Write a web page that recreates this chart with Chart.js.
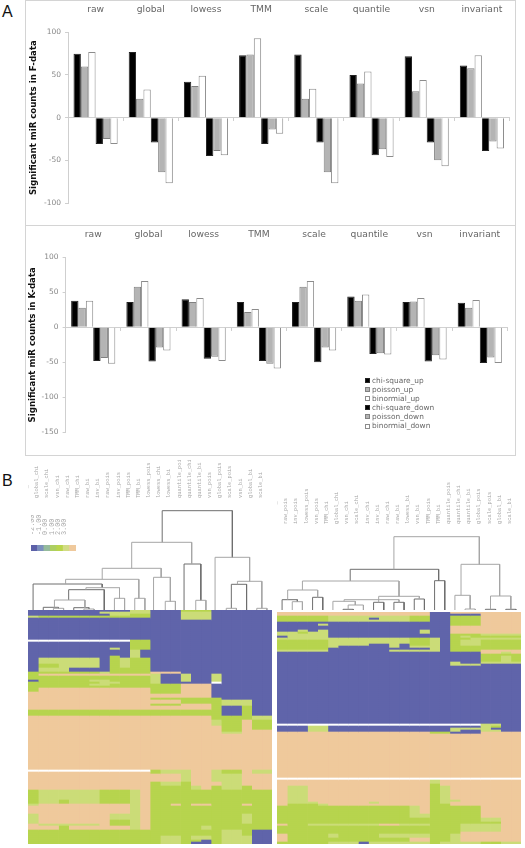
<!DOCTYPE html>
<html lang="en">
<head>
<meta charset="UTF-8">
<title>Significant miR counts</title>
<style>
    body { margin: 0; background: #fff; width: 525px; height: 848px; position: relative; overflow: hidden; }
    canvas { position: absolute; }
    .panel { position: absolute; left: 25px; width: 491px; border: 1px solid #d4d4d4; box-sizing: border-box; }
    .letter { position: absolute; left: 2px; font: 16px "Liberation Sans", Arial, sans-serif; color: #111; }
    .legend { position: absolute; left: 365px; top: 376px; font: 7.4px/9.1px "DejaVu Sans", sans-serif; color: #666; }
    .legend div { display: flex; align-items: center; height: 9.1px; }
    .legend span { width: 3px; height: 3px; margin-right: 2px; border: 1px solid #888; }
</style>
<script src="https://cdn.jsdelivr.net/npm/chart.js"></script>
</head>
<body>
<div class="panel" style="top:0;height:226px"></div>
<div class="panel" style="top:225px;height:231px"></div>
<div class="letter" style="top:3px">A</div>
<div class="letter" style="top:472px">B</div>
<canvas id="barF" width="488" height="224" style="left:26px;top:1px"></canvas>
<canvas id="barK" width="488" height="228" style="left:26px;top:226px"></canvas>
<div class="legend" id="legend"></div>
<canvas id="colorbar" width="45" height="36" style="left:31px;top:515px"></canvas>
<canvas id="dendroLeft" width="244" height="150" style="left:28px;top:460px"></canvas>
<canvas id="dendroRight" width="244" height="150" style="left:277px;top:460px"></canvas>
<canvas id="heatLeft" width="244" height="234" style="left:28px;top:610px"></canvas>
<canvas id="heatRight" width="244" height="232" style="left:277px;top:612px"></canvas>
<script>
const categories = ['raw', 'global', 'lowess', 'TMM', 'scale', 'quantile', 'vsn', 'invariant'];
const seriesNames = ['chi-square_up', 'poisson_up', 'binormial_up', 'chi-square_down', 'poisson_down', 'binormial_down'];

// F-data
const chiUpF = [75, 77, 42, 73, 74, 50, 72, 61];
const poissonUpF = [60, 22, 37, 74, 22, 40, 31, 58];
const binormUpF = [77, 33, 49, 93, 34, 54, 44, 73];
const chiDownF = [-31, -29, -45, -31, -29, -44, -29, -39];
const poissonDownF = [-25, -64, -39, -14, -64, -37, -50, -28];
const binormDownF = [-31, -77, -44, -19, -77, -46, -57, -36];

// K-data
const chiUpK = [38, 36, 40, 36, 36, 44, 36, 35];
const poissonUpK = [28, 58, 36, 22, 58, 38, 37, 28];
const binormUpK = [38, 66, 42, 26, 66, 47, 42, 39];
const chiDownK = [-48, -49, -45, -48, -50, -38, -49, -51];
const poissonDownK = [-44, -29, -42, -52, -29, -37, -40, -43];
const binormDownK = [-52, -33, -48, -59, -33, -39, -46, -51];

const colorbarTicks = ['-3.00', '-2.00', '-1.00', '0.00', '1.00', '2.00', '3.00'];
const colorbarColors = ['#5c60a8', '#7c90bd', '#95bb9c', '#adcf62', '#b9d54c', '#d2dc84', '#efc99c'];

const leftLeaves = ['inv_chi', 'global_chi', 'scale_chi', 'vsn_chi', 'raw_chi', 'TMM_chi', 'raw_bi', 'inv_bi', 'raw_pois', 'inv_pois', 'TMM_pois', 'TMM_bi', 'lowess_pois', 'lowess_chi', 'lowess_bi', 'quantile_pois', 'quantile_chi', 'quantile_bi', 'vsn_pois', 'global_pois', 'scale_pois', 'vsn_bi', 'global_bi', 'scale_bi'];
const rightLeaves = ['lowess_chi', 'raw_pois', 'inv_pois', 'lowess_pois', 'vsn_pois', 'TMM_chi', 'global_chi', 'vsn_chi', 'scale_chi', 'inv_chi', 'inv_bi', 'raw_chi', 'raw_bi', 'lowess_bi', 'vsn_bi', 'TMM_pois', 'TMM_bi', 'quantile_pois', 'quantile_chi', 'quantile_bi', 'global_pois', 'scale_pois', 'global_bi', 'scale_bi'];

// dendrogram links: [x1, h1, x2, h2, top], x in leaf positions
const leftLinksDark = [
    [12.7, 67.7, 19.6, 52.7, 99.3], [0, 0, 6.8, 22.3, 26], [3.5, 10, 7, 0, 20.3],
    [14.85, 0, 16.5, 9.7, 46], [19.5, 1.7, 21, 0, 25.7], [1, 0, 2.5, 1.7, 2.7], [4, 0, 5.5, 1, 2.3]
];
const leftLinksLight = [
    [9.7, 41.7, 15.6, 46, 67.7], [17.9, 0, 21.3, 28.7, 52.7], [20.1, 25.7, 22.5, 1.7, 28.7],
    [19, 0, 20, 0, 1.7], [22, 0, 23, 0, 1.7], [6.8, 30.7, 12.6, 32.7, 41.7], [3.2, 26, 10.4, 11.7, 30.7],
    [5.2, 20.3, 8.5, 11.7, 22.3], [2.1, 2.7, 5.1, 2.3, 10], [2, 0, 3, 0, 1.7], [5, 0, 6, 0, 1],
    [8, 0, 9, 0, 11.7], [10, 0, 11, 0, 11.7], [11.85, 0, 13.5, 8.7, 32.7], [13, 0, 14, 0, 8.7], [16, 0, 17, 0, 9.7]
];
const rightLinksDark = [
    [6.7, 29, 15.4, 29.3, 40.7], [15, 0, 16, 0, 29.3], [3, 0, 4, 0, 12.7], [0, 0, 1.5, 8.3, 10.3],
    [20, 0, 21, 0, 0.7], [22, 0, 23, 0, 0.7], [6, 0, 7, 0, 0.7], [9, 0, 10, 0, 7.7], [11, 0, 12, 0, 7.7], [13, 0, 14, 0, 11]
];
const rightLinksLight = [
    [11, 40.7, 19.4, 45.7, 73.3], [2, 20, 11.5, 13.7, 29], [0.55, 10.3, 3.5, 12.7, 20], [1, 0, 2, 0, 8.3],
    [9.5, 7.7, 13.5, 11, 13.7], [6.1, 8.7, 11.5, 7.7, 10.3], [5, 0, 7.2, 5, 8.7], [6.5, 0.7, 8, 0, 5],
    [17.6, 14.7, 21.4, 14, 45.7], [17, 0, 18.5, 1, 14.7], [18, 0, 19, 0, 1], [20.5, 0.7, 22.5, 0.7, 14]
];

// heatmap rows, one letter per column, repeated as given in the *Repeats list
const heatLeftRows = [
    'bbbbbbbbbbllbbbgggbbbbbb', 'bbbbbbblllllbbblllbbbbbb', 'bbbbbbbbllggbbblllbbbbbb', 'lgggggggggggbbblllbbbbbb',
    'bbbbbbbbbbbbbbblllbbbbbb', 'bbbbbbbbbbbbbbbbbbbbbbbb', 'wwwwwwwwwwggbbbbbbbbbbbb', 'bbbbbbbbbbggbbbbbbbbbbbb',
    'bbbbbbbblbggbbbbbbbbbbbb', 'bbbbbbbbbblbbbbbbbbbbbbb', 'bbbbbbbbgblbbbbbbbbbbbbb', 'bllllllbglggbbbbbbbbbbbb',
    'bggllllbglggbbbbbbbbbbbb', 'blllbbbbggggbbbbbbbbbbbb', 'ggggggglggggooobbbbbbbbb', 'gooooooooooolbblbblbbbbb',
    'gggggggggggglbblbblbbbbb', 'bgggggllgggglbblbblbbbbb', 'gggggggllggglbbbbbwbbbbb', 'ggggggllgggggggooobbbbbb',
    'gggggggggggggggooobbbbbb', 'gooooooooooogggooobbbbbb', 'oooooooooooogggooobbbbbb', 'oooooooooooooooooobbbbbb',
    'oooooooooooogggggggbbbbb', 'ooooooooooooooogggglllbb', 'oooooooooooogggoooglllbb', 'oooooooooooooooooogbbgbb',
    'gggggggggggggggggggbbgbb', 'ooooooooooooooooooggggll', 'oooooooooooooooooolggogg', 'oooooooooooooooooooggogg',
    'oooooooooooooooooooggooo', 'ooooooooooooooooooolloo' + 'o', 'oooooooooooooooooooooooo', 'wwwwwwwwwwwwgllloolggoll',
    'oooooooooooogllloolggoll', 'oooooooooooooooloolllooo', 'oooooooooooogllgooollooo', 'oooooooooooogggglogllgoo',
    'gllllllggglogggggggggggg', 'gllglllggglogggggggggggg', 'looooooooologgogoogggogg', 'oooooooooolo' + 'gggggggggggg',
    'looooooolllo' + 'ggggggggglgg', 'loooooooggl' + 'oggggggggglgg', 'ollllllogglo' + 'gggggggggggg', 'ooogoooooolo' + 'ggggglgggggg',
    'gggggggggggggggggggllgbb', 'gggggggggggggllgllglllbb', 'gggggggggggggllggbglllbb', 'gggggggggggggllgbbglllbb'
];
const heatLeftRepeats = [1, 1, 1, 1, 1, 10, 1, 3, 1, 3, 1, 3, 2, 2, 1, 1, 2, 1, 1, 1, 1, 2, 1, 2, 1, 2, 1, 2, 3, 2, 3, 2, 1, 1, 18, 1, 1, 4, 2, 2, 5, 2, 1, 4, 3, 2, 1, 2, 3, 2, 1, 1];

const heatRightRows = [
    'ooooooooooooooobbooooooo', 'ooooooooooooooobbbbboooo', 'gggggllllllllggbbgggoooo', 'gggggllllblllggbbgggoooo',
    'gggggllllllllggbbgggoooo', 'bbbbbbbbbbbbbbbbbgggoooo', 'bbbblbbbbbbbbbbbbgggoooo', 'bbbbbbbbbbbbbbbbbooooooo',
    'bblblbbbbbbbbblbbooooooo', 'llgllbbbbbbbbblbbooooooo', 'lllllbbbbbbbbbbbbgggllll', 'bllllbbbbbbbbbbbbglggggg',
    'lllllllllllllgglbggllll' + 'l', 'gggggllllllllgglbgllgggg', 'gggggllllbblbgglbgllgggg', 'ggggglbbbbblblllbggggggg',
    'gggggbbbbbbbbbblbggggggg', 'lllllbbbbbblllllbgggoooo', 'bbbbbbbbbbbbbbbbbbbboolo', 'bbbbbbbbbbbbbbbbbbbbgggg',
    'bbbbbbbbbbbbbbbbbbbbgglg', 'bbbbbbbbbbbbbbbbblbbllll', 'bbbbbbbbbbbbbbbbblllbbbb', 'bbbbbbbbbbbbbbbbbbbbbbbb',
    'wwwwwwwwwwwwwwwwwwwwllbb', 'bbbllbbbbbbbbbbbbbbblgbb', 'bbbllbbbbbbbbbbbbllllbb' + 'b', 'bbbllbbbbbbbbbbbblbbllbb',
    'ooooooooooooooogg' + 'bbboooo', 'oooooooooooooooooooooooo', 'wwwwwwwwwwwwwwwwwwwwwwww', 'ooooooooooooooo' + 'loooooooo',
    'ooooooooooooooo' + 'goooooooo', 'ollooooooooooooglooooooo', 'olloooooooooooogllo' + 'ooooo', 'olllooooolooooogloooooo' + 'o',
    'ogggloooooooooo' + 'ggooooooo', 'ggggggggggggg' + 'logggggoooo', 'ggggggggggggg' + 'llgggggoooo', 'gggggggggggggggggggglloo' ,
    'ggggggggggggggggggggggoo', 'oggllllllloolllggglllloo', 'gggggggggggggggggglllloo', 'ggggggggggggggggggoooooo',
    'ogggglgggglllllgglooo' + 'ooo', 'oggggggggggggoogglooo' + 'ooo', 'ggggglllbllllllgllllggll'
];
const heatRightRepeats = [1, 1, 1, 1, 1, 1, 1, 2, 1, 1, 1, 1, 1, 2, 1, 1, 1, 1, 1, 1, 3, 1, 1, 29, 1, 1, 1, 1, 1, 22, 1, 2, 1, 7, 1, 1, 1, 4, 2, 2, 1, 1, 3, 1, 2, 2, 1];

const heatColors = { b: '#6064aa', g: '#b7d44e', l: '#cbdc78', o: '#efc99c', w: '#ffffff' };

Chart.defaults.animation = false;
Chart.defaults.responsive = false;
Chart.defaults.font.family = '"DejaVu Sans", sans-serif';
Chart.defaults.plugins.legend.display = false;
Chart.defaults.plugins.tooltip.enabled = false;

const seriesFill = ['#000000', '#b4b4b4', '#ffffff', '#000000', '#b4b4b4', '#ffffff'];
const seriesEdge = ['#222222', '#808080', '#8c8c8c', '#222222', '#808080', '#8c8c8c'];

function drawBars(id, series, yMin, yMax, title, box) {
    new Chart(document.getElementById(id), {
        type: 'bar',
        data: {
            labels: categories,
            datasets: series.map((values, i) => ({
                label: seriesNames[i],
                data: values,
                backgroundColor: seriesFill[i],
                borderColor: seriesEdge[i],
                borderWidth: 1,
                barPercentage: 1,
                categoryPercentage: 0.8
            }))
        },
        options: {
            layout: { padding: { right: box.right, bottom: box.bottom } },
            scales: {
                x: {
                    position: { y: 0 },
                    offset: true,
                    grid: { drawOnChartArea: false, tickLength: 3, color: '#cfcfcf' },
                    border: { color: '#cfcfcf' },
                    ticks: { display: false }
                },
                top: {
                    type: 'category',
                    labels: categories,
                    position: 'top',
                    offset: true,
                    grid: { display: false },
                    border: { display: false },
                    ticks: { color: '#666', font: { size: 9.2 }, padding: 9, maxRotation: 0 },
                    afterFit(scale) { scale.height = box.top; }
                },
                y: {
                    min: yMin,
                    max: yMax,
                    ticks: { stepSize: 50, color: '#888', font: { size: 7.5 }, padding: 4 },
                    grid: { drawOnChartArea: false, tickLength: 3, color: '#cfcfcf' },
                    border: { color: '#cfcfcf' },
                    title: { display: true, text: title, color: '#111', font: { size: 8.6, weight: 'bold' }, padding: { top: box.titleGap, bottom: 0 } },
                    afterFit(scale) { scale.width = box.left; }
                }
            }
        }
    });
}

drawBars('barF', [chiUpF, poissonUpF, binormUpF, chiDownF, poissonDownF, binormDownF], -100, 100,
    'Significant miR counts in F-data', { left: 42, right: 4.5, top: 31.3, bottom: 22, titleGap: 3 });
drawBars('barK', [chiUpK, poissonUpK, binormUpK, chiDownK, poissonDownK, binormDownK], -150, 100,
    'Significant miR counts in K-data', { left: 39.6, right: 6.6, top: 31.3, bottom: 21.7, titleGap: 2 });

document.getElementById('legend').innerHTML = seriesNames.map((name, i) =>
    `<div><span style="background:${seriesFill[i]};border-color:${seriesEdge[i]}"></span>${name}</div>`).join('');

new Chart(document.getElementById('colorbar'), {
    type: 'bar',
    data: {
        labels: colorbarTicks,
        datasets: [{ data: colorbarTicks.map(() => 1), backgroundColor: colorbarColors, barPercentage: 1, categoryPercentage: 1 }]
    },
    options: {
        scales: {
            x: {
                position: 'top',
                grid: { display: false },
                border: { display: false },
                ticks: { color: '#aaa', font: { family: '"Liberation Mono", monospace', size: 6.8 }, padding: 2, minRotation: 90, maxRotation: 90, autoSkip: false },
                afterFit(scale) { scale.height = 30; scale.paddingLeft = 0; scale.paddingRight = 0; }
            },
            y: { display: false, min: 0, max: 1 }
        }
    }
});

function linkPoints(links) {
    const points = [];
    links.forEach(([x1, h1, x2, h2, top]) => {
        points.push({ x: x1, y: h1 }, { x: x1, y: top }, { x: x2, y: top }, { x: x2, y: h2 }, { x: null, y: null });
    });
    return points;
}

function drawDendro(id, leaves, dark, light, yMax, labelHeight) {
    const lineStyle = { showLine: true, pointRadius: 0, borderWidth: 1, spanGaps: false };
    new Chart(document.getElementById(id), {
        type: 'scatter',
        data: {
            datasets: [
                { ...lineStyle, data: linkPoints(light), borderColor: '#a6a6a6' },
                { ...lineStyle, data: linkPoints(dark), borderColor: '#6e6e6e' }
            ]
        },
        options: {
            scales: {
                x: { type: 'linear', display: false, min: -0.5, max: leaves.length - 0.5 },
                y: { display: false, min: 0, max: yMax },
                names: {
                    type: 'category',
                    labels: leaves,
                    position: 'top',
                    offset: true,
                    grid: { display: false },
                    border: { display: false },
                    ticks: { color: '#a8a8a8', font: { family: '"Liberation Mono", monospace', size: 5.4 }, padding: 0, minRotation: 90, maxRotation: 90, autoSkip: false },
                    afterFit(scale) { scale.height = labelHeight; scale.paddingLeft = 0; scale.paddingRight = 0; }
                }
            }
        }
    });
}

drawDendro('dendroLeft', leftLeaves, leftLinksDark, leftLinksLight, 104, 46);
drawDendro('dendroRight', rightLeaves, rightLinksDark, rightLinksLight, 78, 72);

function drawHeat(id, rows, repeats) {
    const grid = [];
    rows.forEach((row, i) => {
        for (let n = 0; n < repeats[i]; n++) grid.push(row);
    });
    const datasets = [];
    for (let c = 0; c < 24; c++) {
        datasets.push({
            data: grid.map(() => 1),
            backgroundColor: grid.map(row => heatColors[row[c]]),
            barPercentage: 1,
            categoryPercentage: 1,
            borderWidth: 0
        });
    }
    new Chart(document.getElementById(id), {
        type: 'bar',
        data: { labels: grid.map((row, i) => i), datasets },
        options: {
            indexAxis: 'y',
            scales: {
                x: { display: false, stacked: true, min: 0, max: 24 },
                y: { display: false, stacked: true }
            }
        }
    });
}

drawHeat('heatLeft', heatLeftRows, heatLeftRepeats);
drawHeat('heatRight', heatRightRows, heatRightRepeats);
</script>
</body>
</html>
